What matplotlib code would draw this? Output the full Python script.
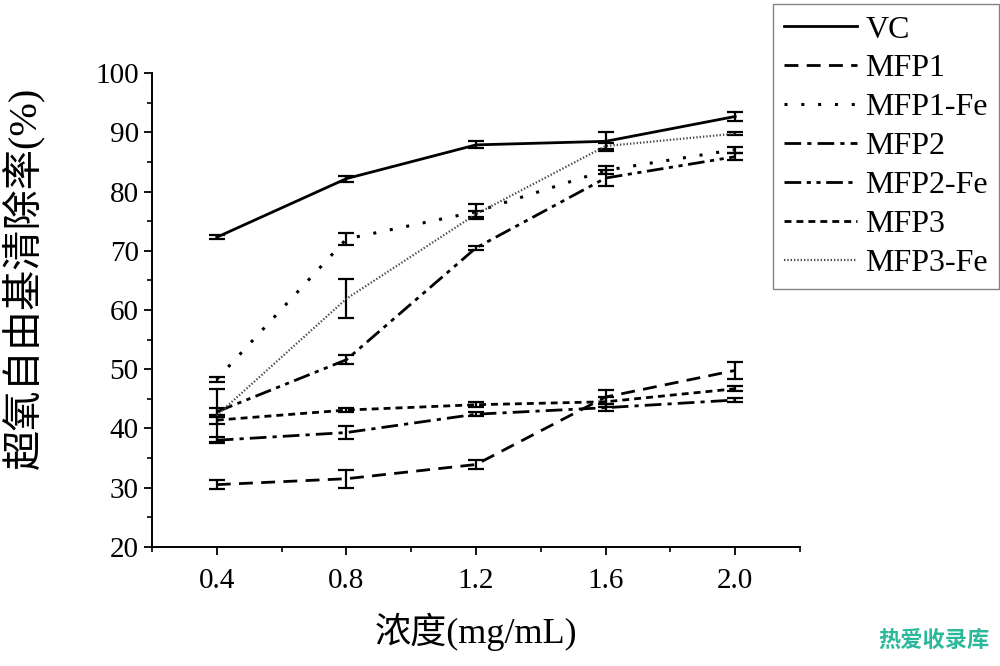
import matplotlib.pyplot as plt
from matplotlib.ticker import MultipleLocator

plt.rcParams['font.family'] = ['Liberation Serif', 'Noto Sans CJK SC']

# concentration (mg/mL)
conc = [0.4, 0.8, 1.2, 1.6, 2.0]

# scavenging rate (%) and error bars
vc = [72.3, 82.2, 87.9, 88.5, 92.7]
vc_err = [0.3, 0.5, 0.6, 1.6, 0.7]
mfp1 = [30.5, 31.5, 33.9, 45.3, 49.8]
mfp1_err = [0.7, 1.5, 0.8, 1.2, 1.5]
mfp1_fe = [48.3, 72.0, 76.6, 83.6, 87.1]
mfp1_fe_err = [0.4, 1.0, 1.3, 0.7, 0.5]
mfp2 = [38.0, 39.3, 42.4, 43.5, 44.8]
mfp2_err = [0.5, 1.1, 0.3, 0.6, 0.4]
mfp2_fe = [42.8, 51.6, 70.5, 82.3, 85.9]
mfp2_fe_err = [0.6, 0.8, 0.3, 1.3, 0.6]
mfp3 = [41.4, 43.1, 44.0, 44.5, 46.7]
mfp3_err = [0.6, 0.3, 0.4, 0.8, 0.4]
mfp3_fe = [42.2, 61.9, 76.2, 87.7, 89.8]
mfp3_fe_err = [4.5, 3.3, 0.5, 0.5, 0.3]

series = [
    ('VC', vc, vc_err, '-', 2.0, 'black'),
    ('MFP1', mfp1, mfp1_err, (0, (5, 3)), 2.0, 'black'),
    ('MFP1-Fe', mfp1_fe, mfp1_fe_err, (0, (1, 4.5)), 2.2, 'black'),
    ('MFP2', mfp2, mfp2_err, (0, (6, 2.2, 1.5, 2.2)), 2.0, 'black'),
    ('MFP2-Fe', mfp2_fe, mfp2_fe_err, (0, (6, 2, 1.5, 2, 1.5, 2)), 2.0, 'black'),
    ('MFP3', mfp3, mfp3_err, (0, (2.5, 1.8)), 2.0, 'black'),
    ('MFP3-Fe', mfp3_fe, mfp3_fe_err, (0, (0.6, 0.9)), 1.6, '#444444'),
]

fig = plt.figure(figsize=(10, 6.66), dpi=100)
ax = fig.add_axes([0.152, 0.179, 0.648, 0.711])

for name, y, err, ls, lw, col in series:
    ax.errorbar(conc, y, yerr=err, linestyle=ls, linewidth=lw, color=col,
                ecolor='black', elinewidth=1.6, capsize=6, capthick=1.6,
                label=name)

ax.set_xlim(0.2, 2.2)
ax.set_ylim(20, 100)
ax.set_xticks(conc)
ax.set_xticklabels(['0.4', '0.8', '1.2', '1.6', '2.0'])
ax.xaxis.set_minor_locator(MultipleLocator(0.2))
ax.yaxis.set_major_locator(MultipleLocator(10))
ax.yaxis.set_minor_locator(MultipleLocator(5))
ax.tick_params(which='major', direction='out', length=6, width=1.3, labelsize=21)
ax.tick_params(axis='x', which='major', pad=9)
ax.tick_params(which='minor', direction='out', length=3.5, width=1.2)
ax.spines['top'].set_visible(False)
ax.spines['right'].set_visible(False)
ax.spines['left'].set_linewidth(1.4)
ax.spines['bottom'].set_linewidth(1.4)

ax.set_xlabel('浓度(mg/mL)', fontsize=26, labelpad=14)
ax.set_ylabel('超氧自由基清除率(%)', fontsize=29)
ax.yaxis.set_label_coords(-0.166, 0.567)

handles, labels = ax.get_legend_handles_labels()
handles = [h[0] for h in handles]
leg = ax.legend(handles, labels, loc='upper right', bbox_to_anchor=(0.999, 0.994),
                bbox_transform=fig.transFigure, fontsize=23, frameon=True,
                fancybox=False, edgecolor='#666666', handlelength=2.3,
                labelspacing=0.3, borderpad=0.35, handletextpad=0.25,
                borderaxespad=0.0)
leg.get_frame().set_linewidth(1.0)

fig.text(0.99, 0.039, '热爱收录库', ha='right', va='center', fontsize=16,
         color='#2bb89b', fontweight='bold', style='italic',
         family=['Noto Sans CJK SC'])

fig.savefig('out.png', dpi=100)
